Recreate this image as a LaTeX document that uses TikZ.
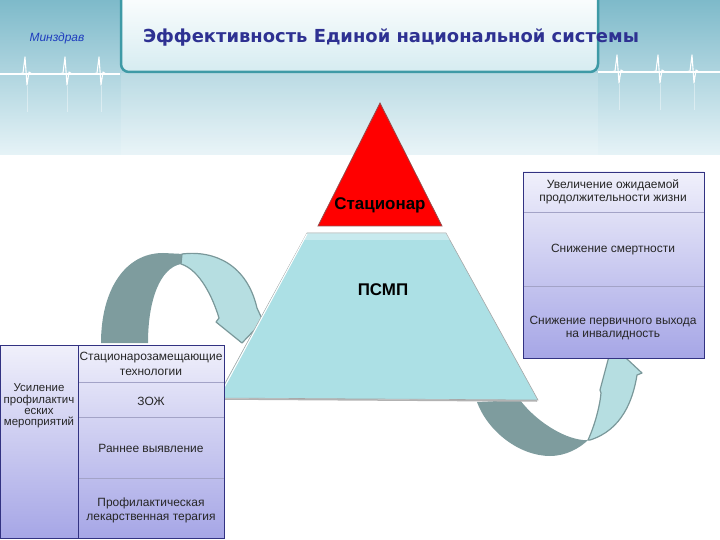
\documentclass[tikz,border=0pt]{standalone}
\usepackage{fontspec}
\setmainfont{Liberation Sans}
\newfontfamily\titlefont{DejaVu Sans}
\usetikzlibrary{positioning}
\definecolor{headtop}{RGB}{126,186,202}
\definecolor{headbot}{RGB}{230,243,247}
\definecolor{boxline}{RGB}{62,154,166}
\definecolor{boxfill}{RGB}{214,236,241}
\definecolor{titleblue}{RGB}{46,49,146}
\definecolor{minblue}{RGB}{30,60,190}
\definecolor{pyrteal}{RGB}{172,224,229}
\definecolor{arrlight}{RGB}{182,222,225}
\definecolor{arrdark}{RGB}{126,156,158}
\definecolor{arredge}{RGB}{122,152,154}
\definecolor{tabtop}{RGB}{240,240,251}
\definecolor{tabbot}{RGB}{166,166,230}
\definecolor{tabline}{RGB}{50,50,130}

\begin{document}
\begin{tikzpicture}[x=1bp,y=-1bp,
    celltext/.style={font=\fontsize{12}{13.5}\selectfont, text=black!85, align=center},
    pyrtext/.style={font=\bfseries\fontsize{17}{19}\selectfont},
    ecg/.style={white, line width=1.1bp, line join=round},
    arrow band/.style={fill=arrlight, draw=arredge, line width=1.2bp, line join=round}]
    \useasboundingbox (0,0) rectangle (720,540);

    % header
    \fill[top color=headtop, bottom color=headbot] (0,0) rectangle (720,155);
    \fill[white, opacity=.15] (121,73) rectangle (598,155);
    \draw[ecg] (0,74) -- (120,74);
    \draw[ecg] (598,72) -- (720,72);
    \foreach \s/\b in {25/74,65/74,99/74,617/72,658/72,692/72} {
        \draw[ecg] (\s-6,\b) -- (\s-2,\b-1) -- (\s,\b-17) -- (\s+2,\b+11) -- (\s+4,\b-2) -- (\s+7,\b);
        \draw[white, opacity=.4, line width=.8bp] (\s+2,\b+12) -- (\s+2,\b+38);
    }
    \path[draw=boxline, line width=2.5bp, rounded corners=8bp, top color=white, bottom color=boxfill]
        (121,-12) rectangle (598,72);
    \node[font=\titlefont\bfseries\fontsize{18}{20}\selectfont, text=titleblue] (title) at (391,38)
        {Эффективность Единой национальной системы};
    \node[font=\itshape\fontsize{12}{14}\selectfont, text=minblue] (minzdrav) at (57,38) {Минздрав};

    % curved arrows
    \fill[arrdark] (101,343) .. controls (101,290) and (125,253) .. (163,253) -- (184,254) -- (181,264)
        .. controls (160,268) and (148,300) .. (148,343) -- cycle;
    \draw[arrow band] (182,254) .. controls (215,250) and (247,265) .. (257,308) -- (263,321) -- (242,343)
        -- (216,322) -- (219,318) .. controls (213,298) and (200,270) .. (181,264) -- cycle;
    \fill[arrdark] (477,402) .. controls (488,432) and (520,456) .. (550,456)
        .. controls (566,456) and (580,448) .. (588,440) -- (583,440)
        .. controls (562,438) and (535,420) .. (520,400) -- cycle;
    \draw[arrow band] (588,440) .. controls (595,425) and (600,405) .. (601,393) -- (600,390) -- (612,345)
        -- (642,373) -- (637,375) .. controls (633,400) and (622,430) .. (590,440) -- cycle;

    % pyramid
    \draw[fill=red, draw=red!40!black!70, line width=.8bp] (380,103) -- (442,226) -- (318,226) -- cycle;
    \draw[fill=pyrteal, draw=gray!70, line width=.6bp] (307,233) -- (446,233) -- (538,400) -- (217,398) -- cycle;
    \fill[white, opacity=.35] (307,233) -- (446,233) -- (450,240) -- (303,240) -- cycle;
    \draw[white, line width=1bp] (307,234) -- (219,397);
    \draw[gray!60, line width=1.5bp] (219,399) -- (537,401);
    \node[pyrtext] (stac) at (380,205) {Стационар};
    \node[pyrtext] (psmp) at (383,290) {ПСМП};

    % left table
    \fill[top color=tabtop, bottom color=tabbot] (0,345) rectangle (224,538);
    \foreach \y in {382,417,478} \draw[tabline!45] (78,\y) -- (224,\y);
    \draw[tabline] (0,345) rectangle (224,538);
    \draw[tabline] (78,345) -- (78,538);
    \node[celltext, font=\fontsize{11.5}{11.5}\selectfont] (usil) at (39,406)
        {Усиление\\профилактич\\еских\\мероприятий};
    \node[celltext, font=\fontsize{12}{15}\selectfont] (stz) at (151,364) {Стационарозамещающие\\технологии};
    \node[celltext] (zozh) at (151,401) {ЗОЖ};
    \node[celltext] (rann) at (151,448) {Раннее выявление};
    \node[celltext, font=\fontsize{12}{14}\selectfont] (prof) at (151,510) {Профилактическая\\лекарственная терагия};

    % right table
    \fill[top color=tabtop, bottom color=tabbot] (523,172) rectangle (704,358);
    \foreach \y in {212,286} \draw[tabline!45] (523,\y) -- (704,\y);
    \draw[tabline] (523,172) rectangle (704,358);
    \node[celltext, font=\fontsize{12}{13}\selectfont] (uvel) at (613,192)
        {Увеличение ожидаемой\\продолжительности жизни};
    \node[celltext] (smert) at (613,250) {Снижение смертности};
    \node[celltext, font=\fontsize{12}{13}\selectfont] (invl) at (613,328)
        {Снижение первичного выхода\\на инвалидность};
\end{tikzpicture}
\end{document}
